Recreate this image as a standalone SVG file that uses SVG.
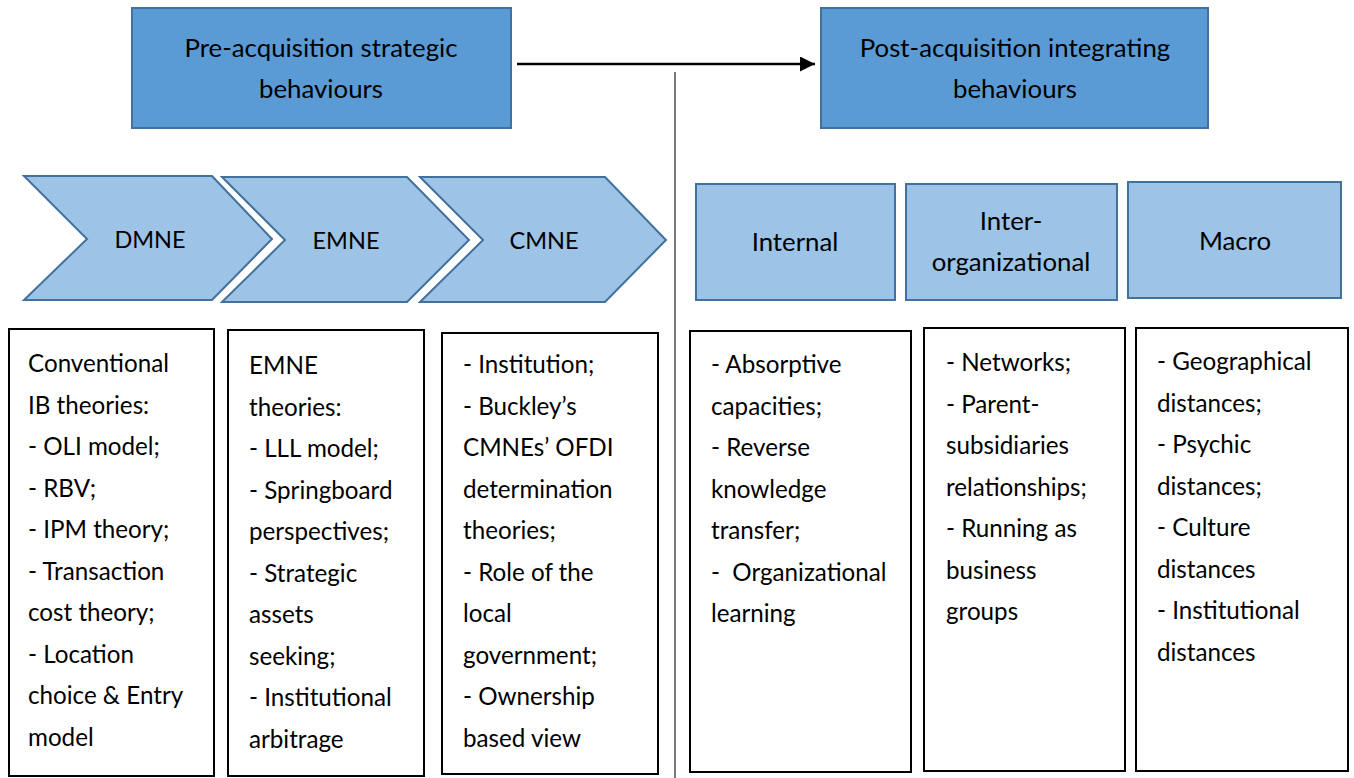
<svg xmlns="http://www.w3.org/2000/svg" width="1354" height="778" viewBox="0 0 1354 778">
<defs>
<marker id="ah" viewBox="0 0 10 10" refX="10" refY="5" markerWidth="6.4" markerHeight="6" orient="auto" markerUnits="strokeWidth"><path d="M0,0 L10,5 L0,10 z" fill="#000"/></marker>
<style>
text{font-family:Lato,"Open Sans","Liberation Sans",sans-serif;font-size:24.2px;fill:#000}
.c{text-anchor:middle;font-size:25.8px}
.cap{font-size:23.5px}
.head{fill:#5b9bd5;stroke:#41719c;stroke-width:2}
.cat{fill:#9dc3e6;stroke:#41719c;stroke-width:2}
.list{fill:#fff;stroke:#000;stroke-width:2}
</style>
</defs>
<rect width="1354" height="778" fill="#fff"/>
<g id="connectors">
<line x1="517" y1="64" x2="815" y2="64" stroke="#000" stroke-width="2.5" marker-end="url(#ah)"/>
<line x1="675" y1="72" x2="675" y2="778" stroke="#222" stroke-width="1.2"/>
</g>
<g id="pre">
<rect class="head" x="132" y="8" width="379" height="120"/>
<text class="c" x="321" y="57">Pre-acquisition strategic</text>
<text class="c" x="321" y="98">behaviours</text>
</g>
<g id="post">
<rect class="head" x="821" y="8" width="387" height="120"/>
<text class="c" x="1015" y="57">Post-acquisition integrating</text>
<text class="c" x="1015" y="98">behaviours</text>
</g>
<g id="dmne">
<polygon class="cat" points="24,176 212,176 272,239 212,300 24,300 87,239"/>
<text class="c cap" x="150" y="248">DMNE</text>
</g>
<g id="emne">
<polygon class="cat" points="222,177 407,177 469,240 407,302 222,302 285,240"/>
<text class="c cap" x="346" y="249">EMNE</text>
</g>
<g id="cmne">
<polygon class="cat" points="420,177 605,177 666,240 605,302 420,302 483,240"/>
<text class="c cap" x="544" y="249">CMNE</text>
</g>
<g id="internal">
<rect class="cat" x="696" y="184" width="199" height="116"/>
<text class="c" x="795" y="251">Internal</text>
</g>
<g id="inter">
<rect class="cat" x="906" y="184" width="211" height="116"/>
<text class="c" x="1011" y="230">Inter-</text>
<text class="c" x="1011" y="271">organizational</text>
</g>
<g id="macro">
<rect class="cat" x="1128" y="182" width="213" height="116"/>
<text class="c" x="1235" y="250">Macro</text>
</g>
<g id="list-dmne">
<rect class="list" x="9" y="329" width="205" height="447"/>
<text x="28" y="372">Conventional</text>
<text x="28" y="413.5">IB theories:</text>
<text x="28" y="455">- OLI model;</text>
<text x="28" y="496.5">- RBV;</text>
<text x="28" y="538">- IPM theory;</text>
<text x="28" y="579.5">- Transaction</text>
<text x="28" y="621">cost theory;</text>
<text x="28" y="662.5">- Location</text>
<text x="28" y="704">choice &amp; Entry</text>
<text x="28" y="745.5">model</text>
</g>
<g id="list-emne">
<rect class="list" x="228" y="330" width="196" height="446"/>
<text x="249" y="374">EMNE</text>
<text x="249" y="415.5">theories:</text>
<text x="249" y="457">- LLL model;</text>
<text x="249" y="498.5">- Springboard</text>
<text x="249" y="540">perspectives;</text>
<text x="249" y="581.5">- Strategic</text>
<text x="249" y="623">assets</text>
<text x="249" y="664.5">seeking;</text>
<text x="249" y="706">- Institutional</text>
<text x="249" y="747.5">arbitrage</text>
</g>
<g id="list-cmne">
<rect class="list" x="442" y="333" width="216" height="441"/>
<text x="463" y="373">- Institution;</text>
<text x="463" y="414.5">- Buckley’s</text>
<text x="463" y="456">CMNEs’ OFDI</text>
<text x="463" y="497.5">determination</text>
<text x="463" y="539">theories;</text>
<text x="463" y="580.5">- Role of the</text>
<text x="463" y="622">local</text>
<text x="463" y="663.5">government;</text>
<text x="463" y="705">- Ownership</text>
<text x="463" y="746.5">based view</text>
</g>
<g id="list-internal">
<rect class="list" x="690" y="331" width="221" height="441"/>
<text x="711" y="373">- Absorptive</text>
<text x="711" y="414.5">capacities;</text>
<text x="711" y="456">- Reverse</text>
<text x="711" y="497.5">knowledge</text>
<text x="711" y="539">transfer;</text>
<text x="711" y="580.5" xml:space="preserve">-  Organizational</text>
<text x="711" y="622">learning</text>
</g>
<g id="list-inter">
<rect class="list" x="924" y="328" width="201" height="443"/>
<text x="946" y="371">- Networks;</text>
<text x="946" y="412.5">- Parent-</text>
<text x="946" y="454">subsidiaries</text>
<text x="946" y="495.5">relationships;</text>
<text x="946" y="537">- Running as</text>
<text x="946" y="578.5">business</text>
<text x="946" y="620">groups</text>
</g>
<g id="list-macro">
<rect class="list" x="1136" y="328" width="212" height="443"/>
<text x="1157" y="370">- Geographical</text>
<text x="1157" y="411.5">distances;</text>
<text x="1157" y="453">- Psychic</text>
<text x="1157" y="494.5">distances;</text>
<text x="1157" y="536">- Culture</text>
<text x="1157" y="577.5">distances</text>
<text x="1157" y="619">- Institutional</text>
<text x="1157" y="660.5">distances</text>
</g>
</svg>
